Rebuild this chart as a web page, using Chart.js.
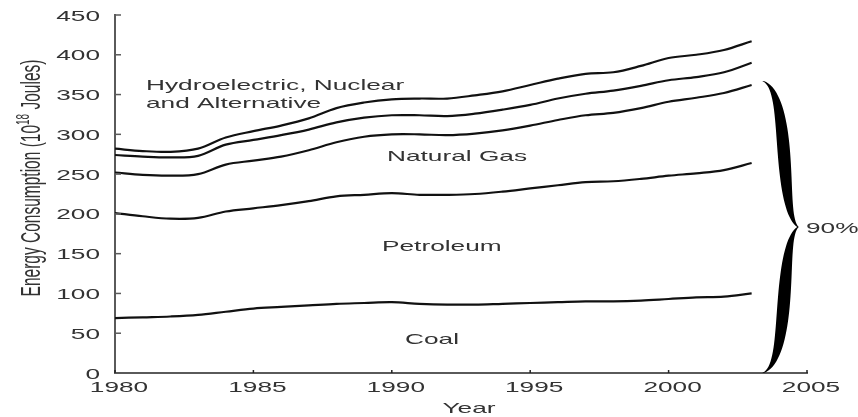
<!DOCTYPE html>
<html>
<head>
<meta charset="utf-8">
<script src="https://cdn.jsdelivr.net/npm/chart.js@4/dist/chart.umd.min.js"></script>
<style>
  html, body { margin: 0; padding: 0; background: #fff; }
  #wrap { width: 858px; height: 417px; }
</style>
</head>
<body>
<div id="wrap"><canvas id="energyChart"></canvas></div>
<script>
// years and cumulative boundaries (10^18 J)
const years = [1980, 1981, 1982, 1983, 1984, 1985, 1986, 1987, 1988, 1989, 1990, 1991,
  1992, 1993, 1994, 1995, 1996, 1997, 1998, 1999, 2000, 2001, 2002, 2003];
const coalTop = [69, 70, 71, 73, 77, 81, 83, 85, 87, 88, 89, 87,
  86, 86, 87, 88, 89, 90, 90, 91, 93, 95, 96, 100];
const petroleumTop = [201, 197, 194, 195, 203, 207, 211, 216, 222, 224, 226, 224,
  224, 225, 228, 232, 236, 240, 241, 244, 248, 251, 255, 264];
const gasTop = [252, 249, 248, 250, 262, 267, 272, 280, 290, 297, 300, 300,
  299, 301, 305, 311, 318, 324, 327, 333, 341, 346, 352, 362];
const nuclearTop = [274, 272, 271, 273, 287, 293, 299, 306, 315, 321, 324, 324,
  323, 326, 331, 337, 345, 351, 355, 361, 368, 372, 378, 390];
const totalTop = [282, 279, 278, 282, 296, 304, 311, 320, 333, 340, 344, 345,
  345, 349, 354, 362, 370, 376, 378, 386, 396, 400, 406, 417];

const xTicks = [1980, 1985, 1990, 1995, 2000, 2005];
const yTicks = [0, 50, 100, 150, 200, 250, 300, 350, 400, 450];

const SX = 1.75; // the original text is stretched sideways
const FONT = '15px "Liberation Sans", Arial, sans-serif';
const TEXT = '#333';
const AXIS = '#5a5a5a';

function wideText(ctx, str, x, y, align) {
  ctx.save();
  ctx.translate(x, y);
  ctx.scale(SX, 1);
  ctx.font = FONT;
  ctx.fillStyle = TEXT;
  ctx.textAlign = align || 'left';
  ctx.textBaseline = 'alphabetic';
  ctx.fillText(str, 0, 0);
  ctx.restore();
}

function series(vals) {
  return vals.map((v, i) => ({ x: years[i], y: v }));
}

const lineStyle = {
  borderColor: '#111',
  borderWidth: 2.2,
  pointRadius: 0,
  tension: 0.35,
  fill: false
};

const decorations = {
  id: 'decorations',
  afterDraw(chart) {
    const ctx = chart.ctx;
    const xs = chart.scales.x, ys = chart.scales.y;
    const area = chart.chartArea;

    // inward tick marks
    ctx.save();
    ctx.strokeStyle = AXIS;
    ctx.lineWidth = 1.5;
    yTicks.forEach(t => {
      const py = ys.getPixelForValue(t);
      ctx.beginPath();
      ctx.moveTo(area.left, py);
      ctx.lineTo(area.left + 6, py);
      ctx.stroke();
    });
    ctx.strokeStyle = '#222';
    xTicks.forEach(t => {
      const px = xs.getPixelForValue(t);
      ctx.beginPath();
      ctx.moveTo(px, area.bottom);
      ctx.lineTo(px, area.bottom - 3);
      ctx.stroke();
    });
    ctx.restore();

    // tick labels
    yTicks.forEach(t => {
      wideText(ctx, String(t), area.left - 15, ys.getPixelForValue(t) + 5.5, 'right');
    });
    xTicks.forEach(t => {
      wideText(ctx, String(t), xs.getPixelForValue(t) + 4, area.bottom + 19, 'center');
    });

    // axis titles
    wideText(ctx, 'Year', 469, 413, 'center');

    ctx.save();
    ctx.translate(33, 178);
    ctx.scale(SX, 1);
    ctx.rotate(-Math.PI / 2);
    ctx.fillStyle = TEXT;
    ctx.textBaseline = 'middle';
    const fBig = '15.5px "Liberation Sans", Arial, sans-serif';
    const fSmall = '10px "Liberation Sans", Arial, sans-serif';
    const p1 = 'Energy Consumption (10', p2 = '18', p3 = ' Joules)';
    ctx.font = fBig;
    const w1 = ctx.measureText(p1).width, w3 = ctx.measureText(p3).width;
    ctx.font = fSmall;
    const w2 = ctx.measureText(p2).width;
    let x0 = -(w1 + w2 + w3) / 2;
    ctx.font = fBig;
    ctx.textAlign = 'left';
    ctx.fillText(p1, x0, 0);
    ctx.font = fSmall;
    ctx.fillText(p2, x0 + w1, -5);
    ctx.font = fBig;
    ctx.fillText(p3, x0 + w1 + w2, 0);
    ctx.restore();

    // region labels
    wideText(ctx, 'Hydroelectric, Nuclear', 146, 90);
    wideText(ctx, 'and Alternative', 146, 108);
    wideText(ctx, 'Natural Gas', 387, 161);
    wideText(ctx, 'Petroleum', 382, 251);
    wideText(ctx, 'Coal', 405, 344);
    wideText(ctx, '90%', 806, 233);

    // curly brace, built as a filled band around a bezier centre line
    const top = { x: 763, y: 81 }, tip = { x: 798, y: 227 }, bot = { x: 763, y: area.bottom };
    function half(a, c1, c2, b) {
      const pts = [];
      for (let i = 0; i <= 40; i++) {
        const t = i / 40, u = 1 - t;
        const x = u*u*u*a.x + 3*u*u*t*c1.x + 3*u*t*t*c2.x + t*t*t*b.x;
        const y = u*u*u*a.y + 3*u*u*t*c1.y + 3*u*t*t*c2.y + t*t*t*b.y;
        const w = 1.5 + 11 * Math.pow(Math.sin(Math.PI * t), 1.2);
        pts.push({ x, y, w });
      }
      return pts;
    }
    const upper = half(top, { x: 792, y: 92 }, { x: 778, y: 212 }, tip);
    const lower = half(tip, { x: 778, y: 242 }, { x: 792, y: 362 }, bot);
    const centre = upper.concat(lower.slice(1));
    ctx.save();
    ctx.fillStyle = '#000';
    ctx.beginPath();
    centre.forEach((p, i) => {
      const px = p.x - p.w / 2;
      if (i === 0) ctx.moveTo(px, p.y); else ctx.lineTo(px, p.y);
    });
    for (let i = centre.length - 1; i >= 0; i--) {
      ctx.lineTo(centre[i].x + centre[i].w / 2, centre[i].y);
    }
    ctx.closePath();
    ctx.fill();
    ctx.restore();
  }
};

new Chart(document.getElementById('energyChart'), {
  type: 'line',
  data: {
    datasets: [
      Object.assign({ label: 'Coal', data: series(coalTop) }, lineStyle),
      Object.assign({ label: 'Petroleum', data: series(petroleumTop) }, lineStyle),
      Object.assign({ label: 'Natural Gas', data: series(gasTop) }, lineStyle),
      Object.assign({ label: 'Nuclear', data: series(nuclearTop) }, lineStyle),
      Object.assign({ label: 'Hydroelectric and Alternative', data: series(totalTop) }, lineStyle)
    ]
  },
  options: {
    responsive: true,
    maintainAspectRatio: false,
    animation: false,
    layout: { autoPadding: false, padding: { top: 15, right: 51, left: 0, bottom: 0 } },
    plugins: { legend: { display: false }, tooltip: { enabled: false } },
    scales: {
      x: {
        type: 'linear',
        min: 1980,
        max: 2005,
        afterBuildTicks: s => { s.ticks = xTicks.map(v => ({ value: v })); },
        afterFit: s => { s.height = 44; },
        ticks: { display: false },
        grid: { display: false },
        border: { display: true, color: AXIS, width: 2 }
      },
      y: {
        min: 0,
        max: 450,
        afterBuildTicks: s => { s.ticks = yTicks.map(v => ({ value: v })); },
        afterFit: s => { s.width = 115; },
        ticks: { display: false },
        grid: { display: false },
        border: { display: true, color: AXIS, width: 2 }
      }
    }
  },
  plugins: [decorations]
});
</script>
</body>
</html>
